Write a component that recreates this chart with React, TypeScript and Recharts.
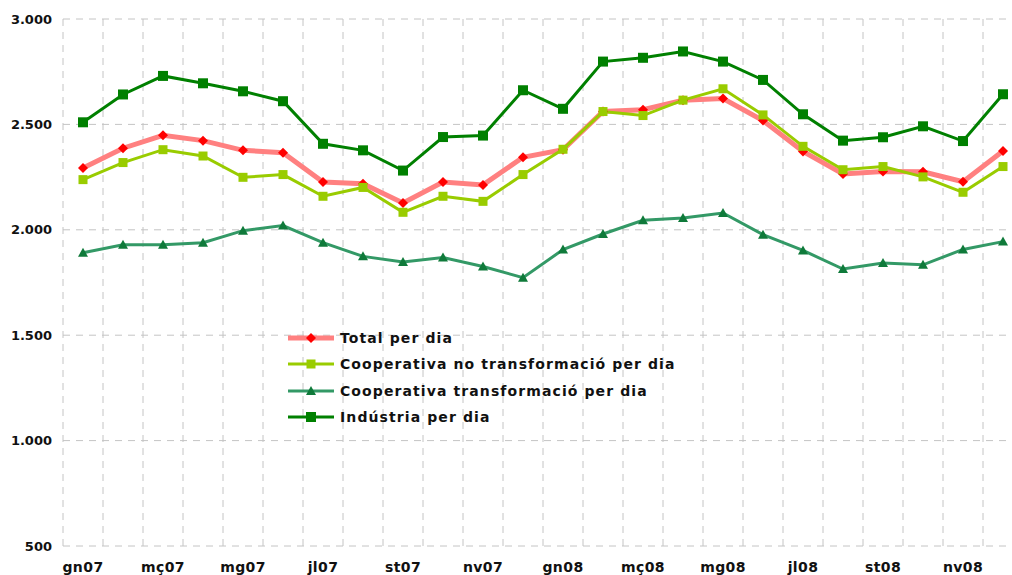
import { LineChart, Line, XAxis, YAxis, CartesianGrid } from 'recharts';

const months = [
  'gn07', 'fb07', 'mç07', 'ab07', 'mg07', 'jn07', 'jl07', 'ag07', 'st07', 'oc07', 'nv07', 'ds07',
  'gn08', 'fb08', 'mç08', 'ab08', 'mg08', 'jn08', 'jl08', 'ag08', 'st08', 'oc08', 'nv08', 'ds08',
];
const total = [2293, 2387, 2448, 2423, 2377, 2366, 2227, 2219, 2127, 2227, 2213, 2344, 2380, 2561, 2570, 2615, 2623, 2518, 2372, 2265, 2277, 2275, 2228, 2374];
const coopNoTransf = [2238, 2319, 2380, 2350, 2249, 2262, 2159, 2201, 2083, 2159, 2135, 2262, 2382, 2561, 2542, 2615, 2669, 2545, 2396, 2285, 2300, 2251, 2178, 2300];
const coopTransf = [1891, 1929, 1929, 1939, 1996, 2020, 1939, 1874, 1847, 1869, 1826, 1773, 1906, 1980, 2045, 2056, 2080, 1977, 1902, 1814, 1842, 1834, 1907, 1944];
const industria = [2510, 2642, 2730, 2695, 2657, 2610, 2408, 2377, 2281, 2440, 2447, 2662, 2574, 2798, 2816, 2846, 2798, 2711, 2548, 2423, 2439, 2491, 2421, 2643];
const yTicks = [500, 1000, 1500, 2000, 2500, 3000];

const data = months.map((m, i) => ({
  month: m,
  x: i + 0.5,
  total: total[i],
  coopNo: coopNoTransf[i],
  coopT: coopTransf[i],
  industria: industria[i],
}));

// grid lines sit between months, labels on every other month
const boundaryTicks = months.map((_, i) => i).concat([months.length]);
const labelTicks = months.map((_, i) => i + 0.5).filter((_, i) => i % 2 === 0);

const FONT = '"DejaVu Sans", Verdana, sans-serif';

const diamond = (color: string, r: number) => (p: any) => (
  <path key={`d${p.index}`} d={`M${p.cx},${p.cy - r}L${p.cx + r},${p.cy}L${p.cx},${p.cy + r}L${p.cx - r},${p.cy}Z`} fill={color} />
);
const square = (color: string, r: number) => (p: any) => (
  <rect key={`s${p.index}`} x={p.cx - r} y={p.cy - r} width={r * 2} height={r * 2} fill={color} />
);
const triangle = (color: string, r: number) => (p: any) => (
  <path key={`t${p.index}`} d={`M${p.cx},${p.cy - r}L${p.cx + r},${p.cy + r * 0.8}L${p.cx - r},${p.cy + r * 0.8}Z`} fill={color} />
);

const series = [
  { key: 'total', name: 'Total per dia', line: '#FF8080', width: 5, marker: 'diamond', mcolor: '#FF0000' },
  { key: 'coopNo', name: 'Cooperativa no transformació per dia', line: '#99CC00', width: 3, marker: 'square', mcolor: '#99CC00' },
  { key: 'coopT', name: 'Cooperativa transformació per dia', line: '#339966', width: 3, marker: 'triangle', mcolor: '#0F7A3A' },
  { key: 'industria', name: 'Indústria per dia', line: '#008000', width: 3, marker: 'square', mcolor: '#008000' },
];

function markerFor(s: typeof series[number]) {
  if (s.marker === 'diamond') return diamond(s.mcolor, 5);
  if (s.marker === 'triangle') return triangle(s.mcolor, 5);
  return square(s.mcolor, s.key === 'industria' ? 5 : 4.5);
}

function LegendBox() {
  return (
    <div
      style={{
        position: 'absolute', left: 288, top: 325, fontFamily: FONT, fontWeight: 'bold',
        fontSize: 14, letterSpacing: 1.1, color: '#111',
      }}
    >
      {series.map(s => {
        const mk = markerFor(s)({ cx: 23, cy: 7, index: 0 });
        return (
          <div key={s.key} style={{ display: 'flex', alignItems: 'center', height: 26.3 }}>
            <svg width={52} height={14}>
              <line x1={0} y1={7} x2={46} y2={7} stroke={s.line} strokeWidth={s.width} />
              {mk}
            </svg>
            <span>{s.name}</span>
          </div>
        );
      })}
    </div>
  );
}

export default function App() {
  return (
    <div style={{ position: 'absolute', left: 0, top: 0, width: 1012, height: 575, overflow: 'hidden', background: '#fff' }}>
      <LineChart width={1030} height={575} data={data} margin={{ top: 19, right: 7, left: 0, bottom: 0 }}>
        <CartesianGrid stroke="#c4c4c4" strokeDasharray="7 6" />
        <XAxis
          type="number"
          dataKey="x"
          domain={[0, months.length]}
          ticks={boundaryTicks}
          interval={0}
          tick={() => <g />}
          axisLine={false}
          tickLine={false}
          height={1}
        />
        <XAxis
          xAxisId="main"
          type="number"
          dataKey="x"
          domain={[0, months.length]}
          ticks={labelTicks}
          interval={0}
          tickFormatter={(v: number) => months[Math.floor(v)]}
          axisLine={false}
          tickLine={false}
          tickMargin={9}
          height={28}
          tick={{ fontFamily: FONT, fontWeight: 'bold', fontSize: 14, fill: '#111', letterSpacing: 0.4 }}
        />
        <YAxis
          type="number"
          domain={[500, 3000]}
          ticks={yTicks}
          interval={0}
          width={63}
          axisLine={false}
          tickLine={false}
          tickMargin={5}
          tickFormatter={(v: number) => v.toLocaleString('de-DE')}
          tick={{ fontFamily: FONT, fontWeight: 'bold', fontSize: 13, fill: '#111' }}
        />
        {series.map(s => (
          <Line
            key={s.key}
            xAxisId="main"
            type="linear"
            dataKey={s.key}
            name={s.name}
            stroke={s.line}
            strokeWidth={s.width}
            dot={markerFor(s)}
            activeDot={false}
            isAnimationActive={false}
          />
        ))}
      </LineChart>
      <LegendBox />
    </div>
  );
}
